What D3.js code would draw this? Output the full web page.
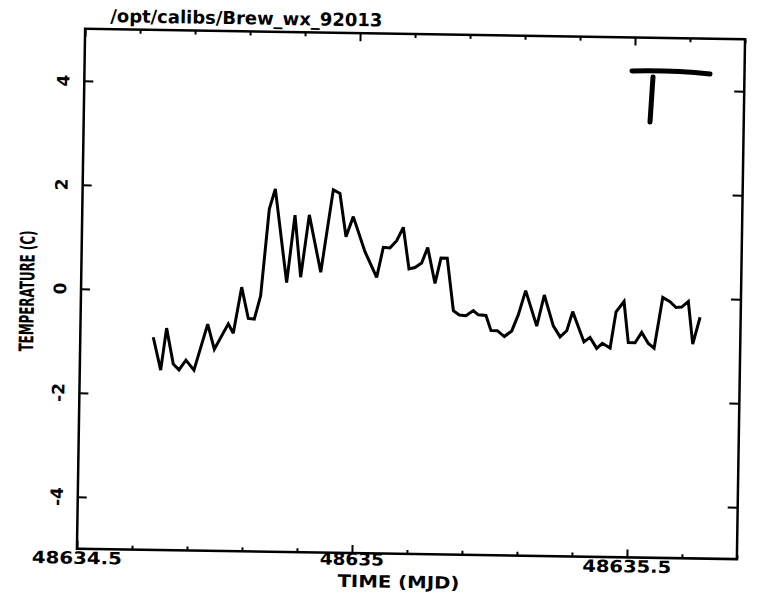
<!DOCTYPE html>
<html>
<head>
<meta charset="utf-8">
<script src="https://cdn.jsdelivr.net/npm/d3@7"></script>
<style>
  html, body { margin: 0; padding: 0; background: #fff; }
  svg { display: block; }
  text { font-family: "DejaVu Sans", sans-serif; font-weight: bold; fill: #000; }
</style>
</head>
<body>
<svg id="chart" width="761" height="597"></svg>
<script>
// ---- data ----
const mjd = [
  48634.6327, 48634.6471, 48634.6567, 48634.6698, 48634.6804, 48634.6927, 48634.7076,
  48634.7313, 48634.7440, 48634.7687, 48634.7780, 48634.7920, 48634.8049, 48634.8158,
  48634.8267, 48634.8400, 48634.8504, 48634.8736, 48634.8869, 48634.8989, 48634.9129,
  48634.9353, 48634.9558, 48634.9680, 48634.9802, 48634.9929, 48635.0151, 48635.0371,
  48635.0484, 48635.0605, 48635.0725, 48635.0842, 48635.0956, 48635.1065, 48635.1185,
  48635.1291, 48635.1433, 48635.1535, 48635.1649, 48635.1775, 48635.1884, 48635.2005,
  48635.2138, 48635.2229, 48635.2369, 48635.2465, 48635.2580, 48635.2709, 48635.2842,
  48635.2956, 48635.3084, 48635.3295, 48635.3424, 48635.3596, 48635.3722, 48635.3842,
  48635.3945, 48635.4051, 48635.4158, 48635.4267, 48635.4391, 48635.4493, 48635.4635,
  48635.4733, 48635.4875, 48635.4964, 48635.5087, 48635.5205, 48635.5329, 48635.5435,
  48635.5578, 48635.5711, 48635.5822, 48635.5925, 48635.6044, 48635.6136, 48635.6262
];
const temperature = [
  -0.91, -1.54, -0.73, -1.42, -1.53, -1.34, -1.53,
  -0.64, -1.12, -0.63, -0.81, 0.08, -0.52, -0.53,
  -0.08, 1.59, 1.98, 0.18, 1.48, 0.29, 1.49,
  0.39, 1.98, 1.91, 1.08, 1.47, 0.80, 0.31,
  0.89, 0.88, 1.02, 1.28, 0.48, 0.51, 0.60,
  0.90, 0.21, 0.70, 0.70, -0.31, -0.39, -0.40,
  -0.30, -0.38, -0.39, -0.68, -0.68, -0.79, -0.68,
  -0.37, 0.10, -0.58, 0.02, -0.57, -0.78, -0.66,
  -0.29, -0.58, -0.87, -0.78, -0.99, -0.89, -0.98,
  -0.28, -0.08, -0.87, -0.87, -0.67, -0.88, -0.97,
  0.01, -0.07, -0.18, -0.17, -0.06, -0.88, -0.36
];
const xMajorTicks = [48634.5, 48635, 48635.5];
const xTickLabels = ["48634.5", "48635", "48635.5"];
const yMajorTicks = [-4, -2, 0, 2, 4];
const yTickLabels = ["-4", "-2", "0", "2", "4"];
const titleText = "/opt/calibs/Brew_wx_92013";
const xTitle = "TIME (MJD)";
const yTitle = "TEMPERATURE (C)";

// ---- layout ----
const L = 81, R = 741, T = 34, B = 554;
const svg = d3.select("#chart");
const g = svg.append("g").attr("transform", "rotate(0.9, 412, 294)");

const x = d3.scaleLinear().domain([48634.5, 48635.7]).range([L, R]);
const y = d3.scaleLinear().domain([-5, 5]).range([B, T]);

const xMinor = d3.range(0, 13).map(i => +(48634.5 + i * 0.1).toFixed(1))
  .filter(v => !xMajorTicks.includes(v));

function styleAxis(sel) {
  sel.select(".domain").remove();
  sel.selectAll(".tick line").attr("stroke", "#000").attr("stroke-width", 2);
  sel.selectAll(".tick text").remove();
}

// bottom axis
g.append("g").attr("transform", `translate(0,${B})`)
  .call(d3.axisBottom(x).tickValues(xMinor).tickSize(-4).tickFormat(""))
  .call(styleAxis);
g.append("g").attr("transform", `translate(0,${B})`)
  .call(d3.axisBottom(x).tickValues(xMajorTicks).tickSize(-8).tickFormat(""))
  .call(styleAxis);
// top axis
g.append("g").attr("transform", `translate(0,${T})`)
  .call(d3.axisTop(x).tickValues(xMinor).tickSize(-4).tickFormat(""))
  .call(styleAxis);
g.append("g").attr("transform", `translate(0,${T})`)
  .call(d3.axisTop(x).tickValues(xMajorTicks).tickSize(-8).tickFormat(""))
  .call(styleAxis);
// left / right axes
g.append("g").attr("transform", `translate(${L},0)`)
  .call(d3.axisLeft(y).tickValues(yMajorTicks).tickSize(-9).tickFormat(""))
  .call(styleAxis);
g.append("g").attr("transform", `translate(${R},0)`)
  .call(d3.axisRight(y).tickValues(yMajorTicks).tickSize(-10).tickFormat(""))
  .call(styleAxis);

// frame
g.append("rect").attr("x", L).attr("y", T).attr("width", R - L).attr("height", B - T)
  .attr("fill", "none").attr("stroke", "#000").attr("stroke-width", 2.5);

// data line
const line = d3.line().x((d, i) => x(mjd[i])).y(d => y(d));
g.append("path").datum(temperature)
  .attr("d", line)
  .attr("fill", "none").attr("stroke", "#000").attr("stroke-width", 3)
  .attr("stroke-linejoin", "miter").attr("stroke-miterlimit", 3);

// x tick labels
const xLabW = { "48634.5": 90, "48635": 64, "48635.5": 89 };
const xLabY = { "48634.5": 569, "48635": 566, "48635.5": 569 };
xMajorTicks.forEach((v, i) => {
  g.append("text").attr("x", x(v)).attr("y", xLabY[xTickLabels[i]])
    .attr("text-anchor", "middle").attr("font-size", 17)
    .attr("textLength", xLabW[xTickLabels[i]]).attr("lengthAdjust", "spacingAndGlyphs")
    .text(xTickLabels[i]);
});

// y tick labels (rotated)
yMajorTicks.forEach((v, i) => {
  const px = 66, py = y(v);
  g.append("text").attr("transform", `translate(${px},${py}) rotate(-90)`)
    .attr("text-anchor", "middle").attr("font-size", 17)
    .text(yTickLabels[i]);
});

// title
g.append("text").attr("x", 106).attr("y", 27).attr("font-size", 18)
  .attr("textLength", 272).attr("lengthAdjust", "spacingAndGlyphs")
  .text(titleText);

// axis titles
g.append("text").attr("x", 403).attr("y", 588).attr("text-anchor", "middle")
  .attr("font-size", 17).attr("textLength", 122).attr("lengthAdjust", "spacingAndGlyphs")
  .text(xTitle);
g.append("text").attr("transform", `translate(34,297) rotate(-90)`)
  .attr("text-anchor", "middle").attr("font-size", 20)
  .attr("textLength", 121).attr("lengthAdjust", "spacingAndGlyphs")
  .text(yTitle);

// hand-drawn "T" annotation (pen strokes)
const ann = svg.append("g").attr("class", "annotation");
ann.append("path")
  .attr("d", "M632,71 Q672,70 710,74")
  .attr("fill", "none").attr("stroke", "#000").attr("stroke-width", 5).attr("stroke-linecap", "round");
ann.append("path")
  .attr("d", "M653,77 L650,122")
  .attr("fill", "none").attr("stroke", "#000").attr("stroke-width", 5).attr("stroke-linecap", "round");
</script>
</body>
</html>
